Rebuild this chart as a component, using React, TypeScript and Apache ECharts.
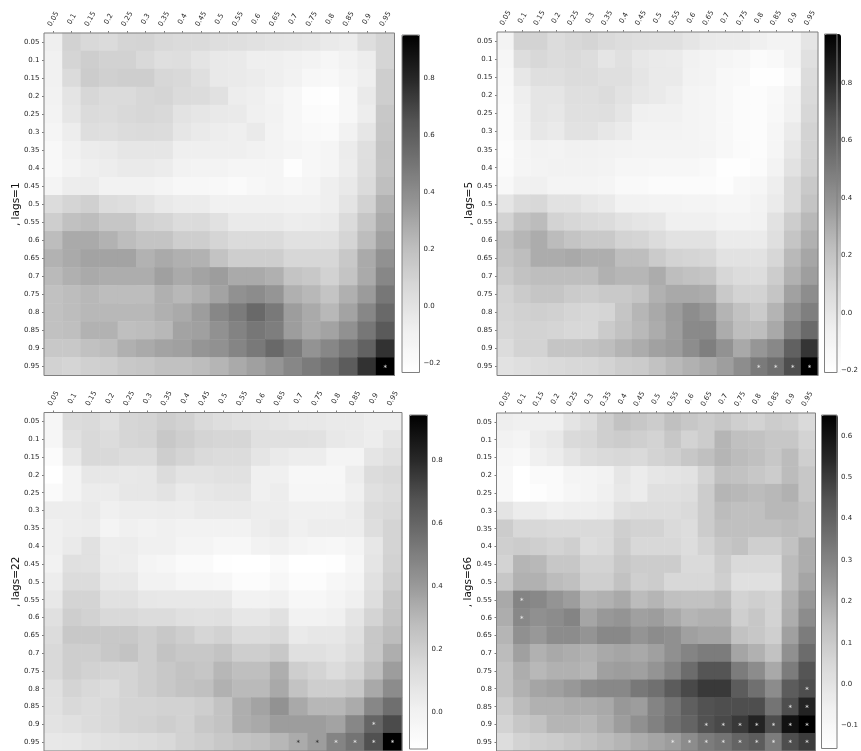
import React, { useEffect, useRef } from "react";
import * as echarts from "echarts";

const quantiles = ["0.05","0.1","0.15","0.2","0.25","0.3","0.35","0.4","0.45","0.5","0.55","0.6","0.65","0.7","0.75","0.8","0.85","0.9","0.95"];
const greys = ["#ffffff","#f0f0f0","#d9d9d9","#bdbdbd","#969696","#737373","#525252","#252525","#000000"];

const lags1Values = [
[-.08,.10,.06,.05,.08,.09,.06,.05,.05,.03,.02,.01,0,-.01,-.02,-.05,-.06,.03,.08],
[-.10,.08,.12,.10,.10,.06,.02,.03,-.01,-.04,-.05,-.08,-.08,-.10,-.12,-.15,-.11,-.07,.08],
[-.10,.05,.13,.11,.12,.12,.07,.06,.02,-.04,-.05,-.06,-.08,-.11,-.16,-.17,-.13,-.08,.12],
[-.11,-.01,.07,.05,.05,.07,.08,.05,.04,.01,-.07,-.08,-.12,-.16,-.22,-.23,-.16,-.05,.12],
[-.12,-.02,.05,.04,.06,.07,.06,0,-.02,-.04,-.05,-.09,-.11,-.16,-.20,-.21,-.16,-.07,.15],
[-.14,-.07,.03,.02,.04,.05,.04,-.02,-.05,-.07,-.08,-.05,-.12,-.16,-.18,-.19,-.11,-.02,.16],
[-.17,-.10,-.06,-.05,-.02,-.02,-.02,-.08,-.08,-.08,-.08,-.10,-.12,-.14,-.16,-.14,-.06,.02,.18],
[-.17,-.12,-.08,-.07,-.05,-.05,-.06,-.11,-.12,-.12,-.14,-.14,-.14,-.22,-.16,-.14,-.07,.03,.17],
[-.13,-.07,-.06,-.11,-.11,-.11,-.13,-.16,-.16,-.17,-.19,-.16,-.14,-.16,-.14,-.08,-.04,.05,.20],
[.04,.08,.11,.04,.03,0,-.04,-.06,-.06,-.10,-.10,-.10,-.10,-.11,-.11,-.08,-.01,.10,.25],
[.12,.19,.21,.16,.16,.10,.08,.04,.05,.01,-.05,-.05,-.05,-.07,-.06,-.05,.05,.16,.28],
[.21,.28,.28,.25,.21,.17,.17,.12,.12,.08,.05,.05,.05,.01,.01,.01,.08,.21,.32],
[.25,.28,.31,.31,.31,.25,.28,.26,.25,.18,.12,.12,.12,.07,.07,.07,.15,.28,.38],
[.22,.26,.28,.27,.27,.27,.32,.28,.31,.33,.28,.28,.26,.17,.15,.10,.17,.28,.42],
[.19,.21,.23,.21,.21,.21,.26,.23,.26,.31,.38,.40,.36,.26,.23,.17,.26,.34,.49],
[.19,.21,.23,.23,.23,.23,.26,.28,.33,.42,.47,.55,.48,.33,.28,.23,.31,.42,.55],
[.19,.20,.25,.25,.20,.21,.23,.31,.32,.38,.44,.49,.46,.33,.28,.31,.38,.49,.62],
[.15,.15,.19,.21,.26,.28,.31,.32,.36,.38,.43,.48,.55,.47,.37,.42,.49,.58,.76],
[.10,.08,.11,.12,.15,.16,.19,.19,.21,.24,.28,.32,.36,.42,.47,.52,.61,.76,.95],
];

const lags5Values = [
[-.09,.12,.12,.07,.09,.11,.08,.06,.05,.04,.04,.01,-.02,-.03,-.03,-.06,-.09,-.09,.01],
[-.12,.06,.09,.07,.08,.06,.01,.04,0,-.02,-.03,-.07,-.09,-.11,-.13,-.17,-.15,-.09,.04],
[-.14,0,.05,.05,.07,.07,.05,.05,.01,-.02,-.02,-.08,-.09,-.14,-.15,-.20,-.20,-.14,.07],
[-.15,-.05,.01,.01,.05,.05,.07,.03,0,-.02,-.05,-.10,-.11,-.14,-.17,-.18,-.15,-.08,.08],
[-.16,-.06,.01,0,.04,.04,.05,.01,-.06,-.07,-.07,-.10,-.11,-.14,-.17,-.18,-.14,-.07,.10],
[-.16,-.07,0,-.02,.03,.03,0,-.03,-.09,-.09,-.09,-.10,-.11,-.14,-.17,-.18,-.12,-.03,.12],
[-.18,-.11,-.08,-.09,-.07,-.07,-.08,-.09,-.10,-.10,-.10,-.10,-.11,-.14,-.17,-.18,-.12,0,.12],
[-.17,-.11,-.09,-.08,-.08,-.08,-.09,-.12,-.12,-.13,-.13,-.13,-.15,-.20,-.20,-.17,-.09,.03,.13],
[-.14,-.07,-.06,-.10,-.10,-.10,-.11,-.15,-.15,-.17,-.17,-.17,-.17,-.19,-.14,-.12,-.05,.08,.17],
[.01,.08,.09,.03,.03,0,-.02,-.08,-.08,-.09,-.09,-.10,-.10,-.12,-.12,-.09,-.03,.08,.20],
[.12,.21,.24,.12,.10,.08,.07,.03,.01,0,-.06,-.06,-.06,-.09,-.09,-.08,.03,.15,.25],
[.21,.26,.30,.24,.20,.17,.17,.12,.11,.07,.03,.03,.03,-.03,-.03,-.03,.05,.19,.28],
[.19,.23,.30,.30,.31,.29,.29,.23,.23,.16,.12,.11,.10,.03,.03,.03,.10,.25,.32],
[.16,.21,.23,.23,.23,.23,.28,.26,.26,.30,.23,.21,.19,.10,.07,.06,.15,.28,.35],
[.12,.16,.19,.19,.16,.15,.17,.17,.20,.28,.31,.31,.30,.17,.12,.12,.19,.34,.42],
[.11,.13,.14,.13,.11,.10,.11,.19,.26,.31,.36,.42,.38,.27,.21,.16,.27,.40,.48],
[.10,.12,.12,.11,.09,.09,.16,.21,.25,.30,.35,.43,.43,.30,.23,.23,.31,.46,.57],
[.07,.12,.12,.19,.19,.21,.23,.27,.30,.34,.36,.42,.48,.40,.31,.38,.44,.61,.77],
[.03,.05,.07,.08,.09,.10,.12,.15,.16,.21,.25,.28,.31,.35,.42,.50,.55,.69,.97],
];

const lags22Values = [
[-.04,.13,.14,.11,.16,.17,.20,.18,.14,.12,.10,.09,.08,.06,.06,.05,.05,.03,.03],
[-.04,.11,.15,.13,.16,.17,.23,.20,.17,.16,.16,.11,.11,.11,.10,.06,.05,.03,.08],
[-.08,.06,.15,.15,.13,.13,.20,.17,.14,.13,.13,.08,.05,.03,.03,-.02,-.02,.08,.11],
[-.115,-.01,.07,.07,.06,.07,.13,.09,.09,.10,.10,.015,.015,-.05,-.05,-.05,.03,.13,.15],
[-.07,-.01,.04,.04,.07,.07,.09,.05,.07,.08,.08,.015,.03,-.04,-.04,-.04,.015,.11,.13],
[.03,.03,.05,.015,.03,.03,.04,.03,.05,.05,.05,.03,.03,.015,.015,.015,.04,.13,.15],
[.015,.03,.04,-.02,.015,0,.015,0,0,0,0,.03,.05,.015,.03,.03,.03,.12,.17],
[.015,.05,.10,.03,.04,.015,.015,-.02,-.02,-.05,-.05,0,.015,-.02,-.04,-.05,-.02,.07,.17],
[0,.11,.10,.04,.03,-.02,-.04,-.07,-.07,-.11,-.115,-.115,-.07,-.115,-.115,-.11,-.05,.08,.18],
[.03,.13,.13,.06,.06,0,0,-.04,-.04,-.05,-.09,-.09,-.05,-.09,-.09,-.05,-.02,.10,.20],
[.06,.17,.17,.10,.10,.07,.06,.06,.06,.06,0,0,.015,-.05,-.05,-.02,.015,.12,.24],
[.11,.20,.18,.15,.15,.13,.13,.11,.10,.11,.07,.07,.10,0,0,.015,.08,.17,.25],
[.13,.23,.23,.23,.23,.20,.23,.20,.16,.18,.13,.13,.15,.05,.07,.07,.11,.23,.28],
[.15,.20,.20,.23,.25,.20,.25,.23,.23,.25,.20,.20,.23,.11,.11,.09,.13,.23,.33],
[.15,.20,.18,.17,.17,.20,.23,.25,.24,.30,.27,.27,.33,.20,.17,.13,.17,.27,.39],
[.11,.17,.15,.13,.17,.20,.23,.25,.265,.32,.29,.29,.35,.25,.20,.20,.23,.35,.45],
[.10,.15,.13,.15,.17,.17,.18,.18,.20,.25,.33,.37,.43,.35,.30,.30,.34,.47,.56],
[.09,.11,.13,.15,.17,.18,.20,.18,.23,.25,.33,.35,.39,.39,.39,.37,.47,.60,.70],
[.06,.07,.09,.11,.12,.13,.15,.18,.20,.23,.25,.265,.30,.34,.39,.48,.54,.68,.94],
];

const lags66Values = [
[-.045,-.055,-.055,-.055,-.004,.03,.082,.127,.109,.092,.136,.109,.092,.109,.082,.066,.092,.082,.04],
[-.068,-.082,-.037,-.02,.04,.05,.082,.092,.082,.066,.109,.066,.092,.168,.136,.127,.109,.109,.066],
[-.095,-.11,-.055,-.037,-.004,.03,.04,.05,.04,.066,.082,.109,.136,.168,.148,.136,.109,.148,.082],
[-.11,-.156,-.125,-.125,-.082,-.082,-.068,-.012,-.037,-.012,-.004,.005,.066,.136,.127,.109,.092,.148,.109],
[-.11,-.156,-.14,-.125,-.095,-.082,-.055,-.02,-.037,.015,.015,.024,.092,.168,.158,.148,.158,.178,.109],
[-.004,-.037,-.037,-.055,-.045,-.045,-.037,.015,.03,.03,.03,.04,.092,.148,.136,.136,.158,.158,.136],
[.092,.05,.05,.04,.04,.04,.04,.082,.066,.066,.04,.03,.092,.136,.136,.136,.136,.148,.136],
[.082,.092,.082,.066,.082,.03,.04,.092,.05,.05,.05,.03,.066,.109,.127,.082,.082,.127,.188],
[.066,.168,.158,.109,.109,.066,.066,.109,.092,.092,.092,.04,.04,.092,.04,.04,.04,.148,.188],
[.109,.178,.178,.148,.136,.082,.082,.127,.082,.092,.05,.05,.05,.082,.015,.015,.015,.148,.209],
[.198,.298,.288,.252,.23,.168,.178,.198,.148,.168,.136,.127,.127,.148,.066,.082,.066,.178,.241],
[.188,.288,.263,.275,.298,.209,.241,.252,.22,.23,.198,.168,.178,.178,.082,.109,.066,.188,.275],
[.168,.263,.241,.275,.275,.252,.288,.288,.252,.275,.263,.22,.209,.209,.127,.109,.082,.22,.321],
[.148,.22,.178,.198,.188,.178,.198,.209,.198,.22,.263,.298,.321,.321,.209,.178,.127,.263,.37],
[.127,.188,.158,.178,.178,.168,.22,.23,.22,.252,.298,.37,.44,.44,.321,.275,.198,.321,.44],
[.127,.178,.209,.22,.241,.275,.288,.288,.333,.358,.418,.468,.505,.505,.418,.358,.275,.418,.458],
[.092,.148,.178,.178,.188,.188,.198,.241,.23,.298,.345,.408,.448,.458,.458,.458,.345,.458,.555],
[.066,.109,.127,.168,.168,.158,.188,.23,.263,.308,.358,.394,.448,.468,.505,.555,.458,.6,.65],
[.03,.066,.082,.092,.109,.127,.148,.168,.188,.209,.23,.275,.321,.345,.394,.418,.321,.458,.497],
];

const lags1Stars = [[18,18]];
const lags5Stars = [[15,18],[16,18],[17,18],[18,18]];
const lags22Stars = [[17,17],[15,18],[16,18],[17,18],[18,18]];
const lags22DarkStars = [[13,18],[14,18]];
const lags66Stars = [[1,10],[1,11],[18,15],[17,16],[18,16],[12,17],[13,17],[14,17],[15,17],[16,17],[17,17],[18,17],[10,18],[11,18],[12,18],[13,18],[14,18],[15,18],[16,18],[17,18],[18,18]];

const lags1Ticks = [-0.2,0,0.2,0.4,0.6,0.8];
const lags5Ticks = [-0.2,0,0.2,0.4,0.6,0.8];
const lags22Ticks = [0,0.2,0.4,0.6,0.8];
const lags66Ticks = [-0.1,0,0.1,0.2,0.3,0.4,0.5,0.6];

const FONT = "DejaVu Sans";
const TEXT = "#262626";
const EDGE = "#808080";

const panels = [
  { name: ", lags=1", rows: lags1Values, stars: lags1Stars, dark: [] as number[][], ticks: lags1Ticks, min: -0.235, max: 0.95,
    grid: { left: 44, top: 33, width: 350.5, height: 342.5 }, bar: { left: 402, top: 35, width: 17.5, height: 337.5 } },
  { name: ", lags=5", rows: lags5Values, stars: lags5Stars, dark: [] as number[][], ticks: lags5Ticks, min: -0.207, max: 0.97,
    grid: { left: 497, top: 32, width: 321, height: 343.5 }, bar: { left: 824.5, top: 34, width: 16.5, height: 338.5 } },
  { name: ", lags=22", rows: lags22Values, stars: lags22Stars, dark: lags22DarkStars, ticks: lags22Ticks, min: -0.117, max: 0.943,
    grid: { left: 44, top: 412.5, width: 358, height: 339 }, bar: { left: 409.5, top: 415, width: 18, height: 334 } },
  { name: ", lags=66", rows: lags66Values, stars: lags66Stars, dark: [] as number[][], ticks: lags66Ticks, min: -0.156, max: 0.65,
    grid: { left: 496.5, top: 413, width: 319, height: 338.5 }, bar: { left: 821.5, top: 415, width: 16.5, height: 333.5 } },
];

const isIn = (list: number[][], x: number, y: number) => list.some((c) => c[0] === x && c[1] === y);

function buildOption() {
  const grid: any[] = [];
  const xAxis: any[] = [];
  const yAxis: any[] = [];
  const series: any[] = [];
  const visualMap: any[] = [];
  panels.forEach((p, i) => {
    grid.push({ ...p.grid, show: true, z: 3, backgroundColor: "transparent", borderColor: EDGE, borderWidth: 1 });
    xAxis.push({
      gridIndex: grid.length - 1, type: "category", data: quantiles, position: "top",
      axisLine: { show: false },
      axisTick: { show: true, alignWithLabel: true, length: 2, lineStyle: { color: "#444", width: 0.7 } },
      axisLabel: { interval: 0, rotate: 300, align: "center", verticalAlign: "middle", margin: 14, fontFamily: FONT, fontSize: 7, color: TEXT },
      splitLine: { show: false },
    });
    yAxis.push({
      gridIndex: grid.length - 1, type: "category", data: quantiles, inverse: true,
      name: p.name, nameLocation: "middle", nameGap: 19, nameRotate: 90,
      nameTextStyle: { fontFamily: FONT, fontSize: 10.5, color: "#111" },
      axisLine: { show: false },
      axisTick: { show: true, alignWithLabel: true, length: 2, lineStyle: { color: "#444", width: 0.7 } },
      axisLabel: { interval: 0, margin: 4.5, fontFamily: FONT, fontSize: 7, color: TEXT },
      splitLine: { show: false },
    });
    const data = p.rows.flatMap((row, y) =>
      row.map((v, x) => {
        const light = isIn(p.stars, x, y);
        const dark = isIn(p.dark, x, y);
        if (!light && !dark) return [x, y, v];
        return { value: [x, y, v], label: { show: true, formatter: "*", fontFamily: FONT, fontSize: 7, color: dark ? "#262626" : "#f2f2f2", offset: [0, 1.2] } };
      })
    );
    series.push({
      type: "heatmap", xAxisIndex: grid.length - 1, yAxisIndex: grid.length - 1, data,
      label: { show: false }, itemStyle: { borderWidth: 0 }, emphasis: { disabled: true }, silent: true,
    });
    visualMap.push({
      type: "continuous", seriesIndex: i, min: p.min, max: p.max, dimension: 2, orient: "vertical",
      left: p.bar.left, top: p.bar.top, itemWidth: p.bar.width, itemHeight: p.bar.height,
      padding: 0, calculable: false, hoverLink: false, realtime: false, text: null, showLabel: false,
      inRange: { color: greys }, z: 1,
    });
    grid.push({ ...p.bar, show: true, z: 4, backgroundColor: "transparent", borderColor: EDGE, borderWidth: 1 });
    xAxis.push({ gridIndex: grid.length - 1, type: "value", min: 0, max: 1, show: false });
    yAxis.push({
      gridIndex: grid.length - 1, type: "value", position: "right", min: p.min, max: p.max,
      axisLine: { show: false }, splitLine: { show: false },
      axisTick: { show: true, length: 2, customValues: p.ticks, lineStyle: { color: "#444", width: 0.7 } },
      axisLabel: { show: true, customValues: p.ticks, margin: 4, fontFamily: FONT, fontSize: 7, color: TEXT,
        formatter: (v: number) => v.toFixed(1).replace("-", "\u2212") },
    });
  });
  return { animation: false, backgroundColor: "#fff", grid, xAxis, yAxis, series, visualMap, tooltip: { show: false } };
}

export default function App() {
  const ref = useRef<HTMLDivElement>(null);
  useEffect(() => {
    document.body.style.margin = "0";
    document.body.style.overflow = "hidden";
    const chart = echarts.init(ref.current!, null, { renderer: "svg" });
    chart.setOption(buildOption() as any);
    return () => chart.dispose();
  }, []);
  return <div ref={ref} style={{ width: 861, height: 751, overflow: "hidden", filter: "blur(0.5px)" }} />;
}
